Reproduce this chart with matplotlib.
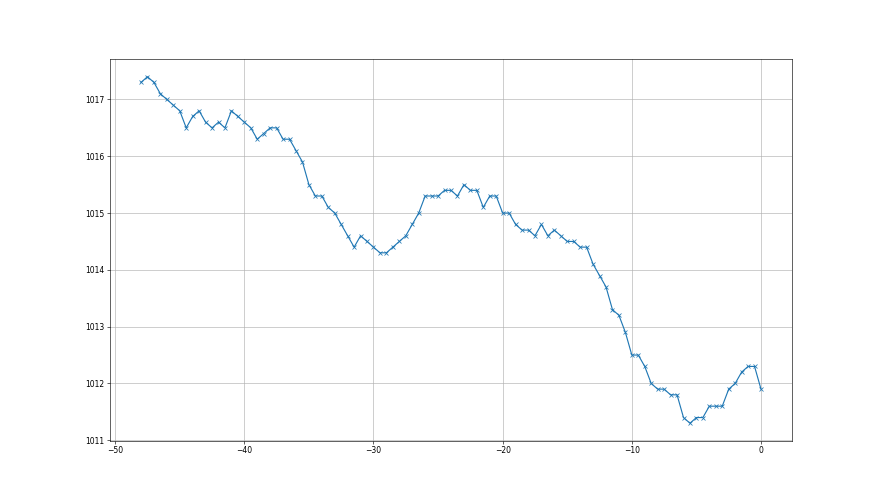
import matplotlib
matplotlib.use("Agg")
import matplotlib.pyplot as plt
import numpy as np

hours = np.arange(-48, 0.01, 0.5)
pressure = [
    1017.3, 1017.4, 1017.3, 1017.1, 1017.0, 1016.9, 1016.8, 1016.5, 1016.7, 1016.8,
    1016.6, 1016.5, 1016.6, 1016.5, 1016.8, 1016.7, 1016.6, 1016.5, 1016.3, 1016.4,
    1016.5, 1016.5, 1016.3, 1016.3, 1016.1, 1015.9, 1015.5, 1015.3, 1015.3, 1015.1,
    1015.0, 1014.8, 1014.6, 1014.4, 1014.6, 1014.5, 1014.4, 1014.3, 1014.3, 1014.4,
    1014.5, 1014.6, 1014.8, 1015.0, 1015.3, 1015.3, 1015.3, 1015.4, 1015.4, 1015.3,
    1015.5, 1015.4, 1015.4, 1015.1, 1015.3, 1015.3, 1015.0, 1015.0, 1014.8, 1014.7,
    1014.7, 1014.6, 1014.8, 1014.6, 1014.7, 1014.6, 1014.5, 1014.5, 1014.4, 1014.4,
    1014.1, 1013.9, 1013.7, 1013.3, 1013.2, 1012.9, 1012.5, 1012.5, 1012.3, 1012.0,
    1011.9, 1011.9, 1011.8, 1011.8, 1011.4, 1011.3, 1011.4, 1011.4, 1011.6, 1011.6,
    1011.6, 1011.9, 1012.0, 1012.2, 1012.3, 1012.3, 1011.9,
]

fig = plt.figure(figsize=(16, 9), dpi=55)
ax = fig.add_subplot(111)
ax.plot(hours, pressure, marker='x', color='C0')
ax.grid(True)
ax.ticklabel_format(axis='y', useOffset=False, style='plain')
fig.savefig("out.png", dpi=55)
